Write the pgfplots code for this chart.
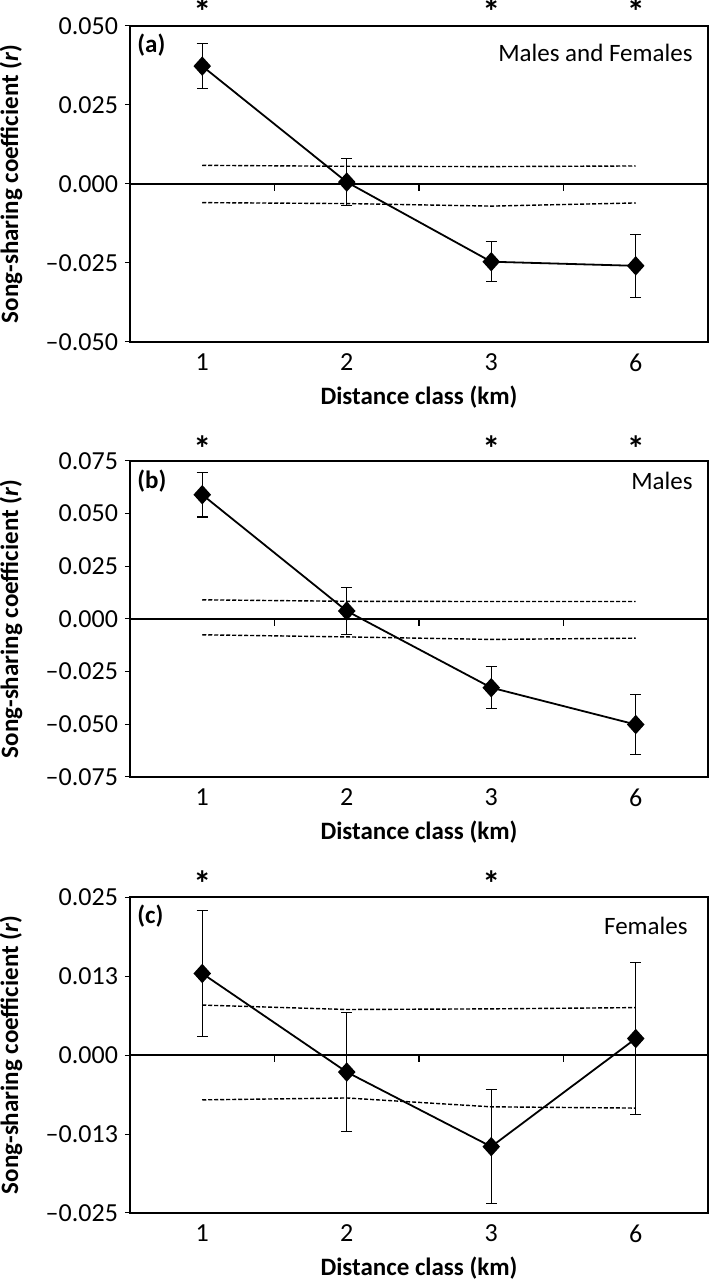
\documentclass[border=0pt]{standalone}
\usepackage{fontspec}
\setmainfont{Carlito}
\usepackage{pgfplots}
\pgfplotsset{compat=1.18}

\pgfplotsset{
  songaxis/.style={
    scale only axis, width=289pt, height=158pt, anchor=south west,
    xmin=0.5, xmax=4.5, xtick={1,2,3,4}, xticklabels={1,2,3,6},
    major x tick style={draw=none},
    tick align=outside, major tick length=2.5pt,
    ytick pos=left, xtick pos=bottom,
    scaled y ticks=false,
    tick style={black, line width=0.5pt},
    axis line style={black, line width=0.9pt},
    /pgf/number format/assume math mode=true,
    ticklabel style={font=\fontsize{13}{14}\selectfont},
    xlabel={Distance class (km)},
    ylabel={Song-sharing coefficient (\textit{r})},
    xlabel style={font=\bfseries\fontsize{12.5}{14}\selectfont, at={(axis description cs:0.5,-0.174)}, anchor=center},
    ylabel style={font=\bfseries\fontsize{12.5}{14}\selectfont, at={(axis description cs:-0.206,0.5)}, anchor=center},
    clip=false,
  },
  rline/.style={black, line width=0.9pt, mark=diamond*, mark size=4.2pt,
    mark options={xscale=1.2},
    error bars/.cd, y dir=both, y explicit,
    error bar style={line width=0.55pt},
    error mark options={rotate=90, mark size=2.75pt, line width=0.55pt}},
  ciline/.style={black, line width=0.7pt, dash pattern=on 2pt off 1pt, no marks},
}
\tikzset{
  star/.style={font=\bfseries\fontsize{18}{20}\selectfont, anchor=base, inner sep=0pt},
  plab/.style={font=\bfseries\fontsize{12.5}{14}\selectfont, inner sep=0pt},
  pname/.style={font=\fontsize{12.5}{14}\selectfont, inner sep=0pt},
  zline/.style={line width=0.7pt},
}

\begin{document}
\begin{tikzpicture}
\useasboundingbox (0,0) rectangle (354.5pt,640pt);

% (a) Males and Females
\begin{axis}[songaxis, at={(65pt,469pt)},
  ymin=-0.05, ymax=0.05, ytick={-0.05,-0.025,0,0.025,0.05},
  yticklabels={--0.050,--0.025,0.000,0.025,0.050}]
\draw[zline] (axis cs:0.5,0) -- (axis cs:4.5,0);
\pgfplotsinvokeforeach{1.5,2.5,3.5}{\draw[zline] (axis cs:#1,0) -- ([yshift=-3.5pt]axis cs:#1,0);}
\addplot[ciline] coordinates {(1,0.0059) (2,0.0056) (3,0.0055) (4,0.0057)};
\addplot[ciline] coordinates {(1,-0.0059) (2,-0.0062) (3,-0.0070) (4,-0.0060)};
\addplot[rline] coordinates {
  (1,0.0373) +- (0,0.0072)
  (2,0.0006) +- (0,0.0075)
  (3,-0.0246) +- (0,0.0063)
  (4,-0.0259) +- (0,0.0100)};
\node[plab, anchor=west] at (axis description cs:0,1) [xshift=3.5pt, yshift=-9.5pt] {(a)};
\node[pname, anchor=east] at (axis description cs:1,1) [xshift=-7.5pt, yshift=-13.5pt] {Males and Females};
\node[star] at (axis cs:1,0.05) [yshift=0.5pt] {*};
\node[star] at (axis cs:3,0.05) [yshift=0.5pt] {*};
\node[star] at (axis cs:4,0.05) [yshift=0.5pt] {*};
\end{axis}

% (b) Males
\begin{axis}[songaxis, at={(65pt,251.5pt)},
  ymin=-0.075, ymax=0.075, ytick={-0.075,-0.05,-0.025,0,0.025,0.05,0.075},
  yticklabels={--0.075,--0.050,--0.025,0.000,0.025,0.050,0.075}]
\draw[zline] (axis cs:0.5,0) -- (axis cs:4.5,0);
\pgfplotsinvokeforeach{1.5,2.5,3.5}{\draw[zline] (axis cs:#1,0) -- ([yshift=-3.5pt]axis cs:#1,0);}
\addplot[ciline] coordinates {(1,0.0091) (2,0.0084) (3,0.0083) (4,0.0083)};
\addplot[ciline] coordinates {(1,-0.0075) (2,-0.0085) (3,-0.0097) (4,-0.0091)};
\addplot[rline] coordinates {
  (1,0.0590) +- (0,0.0106)
  (2,0.0038) +- (0,0.0110)
  (3,-0.0326) +- (0,0.0100)
  (4,-0.0501) +- (0,0.0143)};
\node[plab, anchor=west] at (axis description cs:0,1) [xshift=3.5pt, yshift=-10pt] {(b)};
\node[pname, anchor=east] at (axis description cs:1,1) [xshift=-7.5pt, yshift=-10pt] {Males};
\node[star] at (axis cs:1,0.075) [yshift=-0.5pt] {*};
\node[star] at (axis cs:3,0.075) [yshift=-0.5pt] {*};
\node[star] at (axis cs:4,0.075) [yshift=-0.5pt] {*};
\end{axis}

% (c) Females
\begin{axis}[songaxis, at={(65pt,33.5pt)},
  ymin=-0.025, ymax=0.025, ytick={-0.025,-0.0125,0,0.0125,0.025},
  yticklabels={--0.025,--0.013,0.000,0.013,0.025}]
\draw[zline] (axis cs:0.5,0) -- (axis cs:4.5,0);
\pgfplotsinvokeforeach{1.5,2.5,3.5}{\draw[zline] (axis cs:#1,0) -- ([yshift=-3.5pt]axis cs:#1,0);}
\addplot[ciline] coordinates {(1,0.0079) (2,0.0072) (3,0.0073) (4,0.0075)};
\addplot[ciline] coordinates {(1,-0.0071) (2,-0.0068) (3,-0.0082) (4,-0.0084)};
\addplot[rline] coordinates {
  (1,0.0129) +- (0,0.0100)
  (2,-0.0027) +- (0,0.0094)
  (3,-0.0145) +- (0,0.0090)
  (4,0.0026) +- (0,0.0120)};
\node[plab, anchor=west] at (axis description cs:0,1) [xshift=3.5pt, yshift=-9.5pt] {(c)};
\node[pname, anchor=east] at (axis description cs:1,1) [xshift=-10pt, yshift=-14.5pt] {Females};
\node[star] at (axis cs:1,0.025) [yshift=0.5pt] {*};
\node[star] at (axis cs:3,0.025) [yshift=0.5pt] {*};
\end{axis}
\end{tikzpicture}
\end{document}
